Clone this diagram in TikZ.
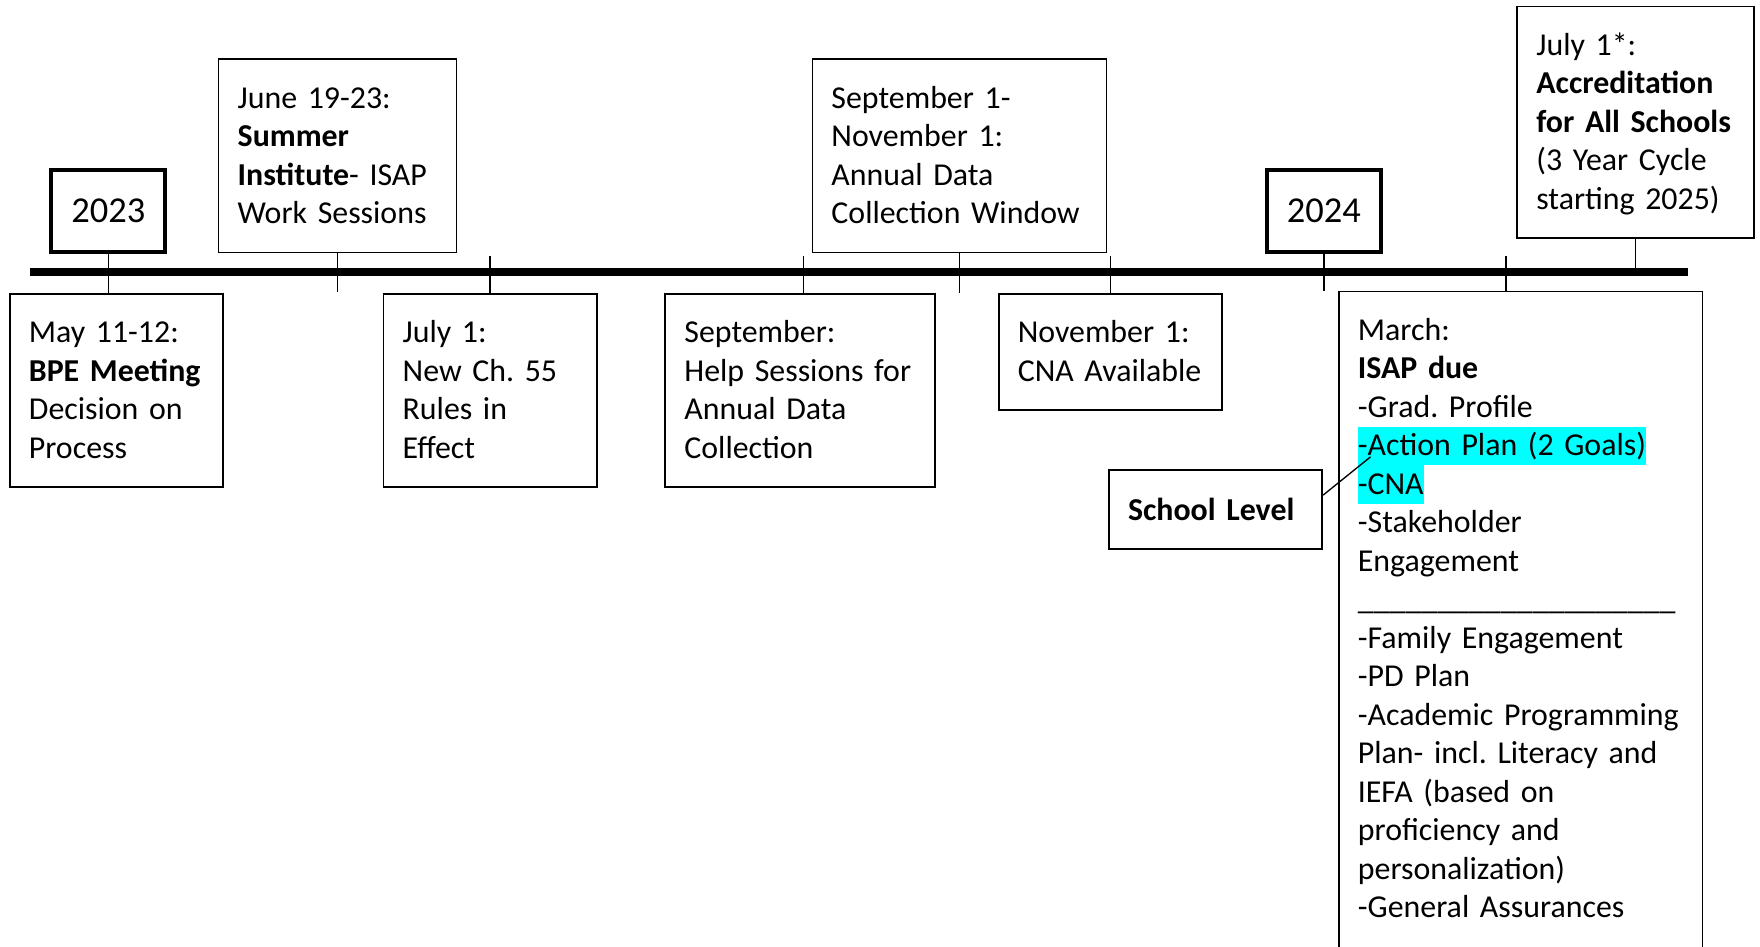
\documentclass[tikz,border=0pt]{standalone}
\usepackage{fontspec}
\setmainfont{Carlito}
\usetikzlibrary{calc}
\definecolor{hl}{RGB}{0,255,255}
\newcommand{\mystrut}{\rule[-8.3pt]{0pt}{34.3pt}}
\newcommand{\hlt}[1]{{\setlength{\fboxsep}{0pt}\colorbox{hl}{\mystrut #1}}}
\frenchspacing
\begin{document}
\frenchspacing
\begin{tikzpicture}[x=1pt,y=-1pt,
  every node/.style={font=\fontsize{28.4}{34.3}\selectfont\frenchspacing},
  evt/.style={draw, line width=1.5pt, inner xsep=17pt, inner ysep=17.5pt, align=left, anchor=north west,
    execute at begin node=\mystrut, execute at end node=\mystrut},
  yearbox/.style={draw, line width=3.6pt, minimum width=101.4pt, minimum height=72.4pt, inner sep=0pt,
    font=\fontsize{32.5}{39}\selectfont},
  tick/.style={line width=1.4pt},
  axis/.style={line width=7pt},
  lead/.style={line width=1.2pt}]
\useasboundingbox (0,0) rectangle (1568,843);
\clip (0,0) rectangle (1568,843);

% timeline
\coordinate (tlL) at (27,242.5);
\coordinate (tlR) at (1504,242.5);
\draw[axis] (tlL) -- (tlR);

% year boxes
\node[yearbox] (y2023) at (96.5,188) {2023};
\node[yearbox] (y2024) at (1179.5,188) {2024};

% upper events
\node[evt, text width=178pt] (june) at (194,52)
  {June 19-23:\\\textbf{Summer}\\\textbf{Institute}-~ISAP\\Work Sessions};
\node[evt, text width=228pt] (sepnov) at (723,52)
  {September 1-\\November 1:\\Annual Data\\Collection~Window};
\node[evt, text width=177pt] (jul1s) at (1351,5)
  {July 1*:\\\textbf{Accreditation}\\\textbf{for~All~Schools}\\(3 Year Cycle\\starting~2025)};

% lower events
\node[evt, text width=156pt] (may) at (8,261)
  {May 11-12:\\\textbf{BPE~Meeting}\\Decision on\\Process};
\node[evt, text width=156pt] (july) at (341,261)
  {July 1:\\New Ch. 55\\Rules in\\Effect};
\node[evt, text width=206pt] (sept) at (592,261)
  {September:\\Help~Sessions~for\\Annual Data\\Collection};
\node[evt, text width=165pt] (nov) at (889,261)
  {November 1:\\CNA~Available};
\node[evt, text width=290pt] (march) at (1192,259)
  {March:\\\textbf{ISAP due}\\-Grad. Profile\\\hlt{-Action~Plan~(2~Goals)}\\\hlt{-CNA}\\-Stakeholder\\Engagement\\\_\_\_\_\_\_\_\_\_\_\_\_\_\_\_\_\_\_\_\_\\-Family~Engagement\\-PD Plan\\-Academic~Programming\\Plan-~incl.~Literacy~and\\IEFA (based on\\proficiency and\\personalization)\\-General~Assurances\\\mystrut};

% school level
\node[draw, line width=1.5pt, text width=156pt, inner xsep=17pt, inner ysep=0pt, minimum height=70pt,
  align=left, font=\fontsize{28.4}{34.3}\selectfont\bfseries] (school) at (1083,454) {School~Level};
\coordinate (actpt) at (1221,407);
\draw[lead] ($(school.north east)!0.32!(school.south east)$) -- (actpt);

% ticks
\draw[tick] (y2023.south) -- (y2023.south |- may.north);
\draw[tick] (june.south) -- ++(0,34);
\draw[tick] (july.north) -- ++(0,-33);
\draw[tick] ([xshift=3pt]sept.north) -- ++(0,-33);
\draw[tick] (sepnov.south) -- ++(0,35);
\draw[tick] (nov.north) -- ++(0,-33);
\draw[tick] (y2024.south) -- ++(0,33);
\draw[tick] ([xshift=-13pt]march.north) -- ++(0,-31);
\draw[tick] (jul1s.south) -- (jul1s.south |- tlL);
\end{tikzpicture}
\end{document}
